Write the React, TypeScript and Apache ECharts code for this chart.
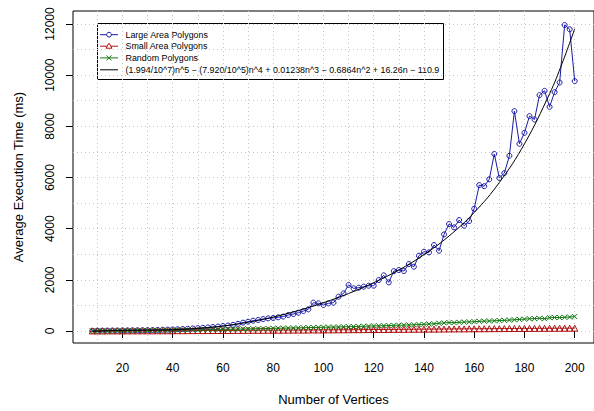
import React, { useEffect, useRef } from 'react';
import * as echarts from 'echarts';

const vertices = [
  8, 10, 12, 14, 16, 18, 20, 22, 24, 26, 28, 30, 32, 34, 36, 38, 40, 42, 44, 46,
  48, 50, 52, 54, 56, 58, 60, 62, 64, 66, 68, 70, 72, 74, 76, 78, 80, 82, 84, 86,
  88, 90, 92, 94, 96, 98, 100, 102, 104, 106, 108, 110, 112, 114, 116, 118, 120, 122, 124, 126,
  128, 130, 132, 134, 136, 138, 140, 142, 144, 146, 148, 150, 152, 154, 156, 158, 160, 162, 164, 166,
  168, 170, 172, 174, 176, 178, 180, 182, 184, 186, 188, 190, 192, 194, 196, 198, 200,
];

const largeArea = [
  10, 12, 14, 15, 17, 19, 21, 23, 26, 28, 31, 34, 38, 42, 47, 53, 60, 68, 78, 88,
  99, 112, 125, 140, 156, 174, 194, 216, 240, 280, 326, 362, 403, 430, 468, 495, 510, 535, 565, 625,
  664, 716, 781, 846, 1107, 1081, 1016, 1081, 1107, 1341, 1471, 1800, 1667, 1693, 1732, 1771, 1771, 1992, 2174, 1901,
  2340, 2383, 2344, 2617, 2513, 2943, 3099, 3073, 3359, 3138, 3776, 4180, 4049, 4336, 4115, 4297, 4779, 5703, 5660, 5930,
  6920, 5980, 6172, 6849, 8594, 7318, 7747, 8398, 8268, 9219, 9388, 8763, 9336, 9714, 11960, 11793, 9766,
];

const smallArea = [
  3, 3, 4, 4, 5, 5, 6, 6, 7, 7, 8, 9, 9, 10, 10, 11, 12, 13, 13, 14,
  15, 16, 17, 18, 19, 20, 21, 22, 23, 24, 25, 26, 27, 28, 29, 30, 31, 32, 34, 35,
  36, 37, 38, 40, 41, 42, 44, 45, 46, 48, 49, 50, 52, 53, 55, 56, 58, 59, 60, 62,
  63, 65, 66, 68, 69, 71, 72, 74, 75, 77, 78, 80, 81, 83, 84, 86, 87, 88, 90, 91,
  93, 94, 95, 97, 98, 99, 101, 102, 103, 104, 105, 106, 107, 108, 109, 110, 111,
];

const randomPolygons = [
  3, 4, 5, 6, 8, 9, 11, 12, 14, 16, 18, 20, 22, 24, 27, 29, 32, 35, 38, 41,
  44, 47, 50, 53, 57, 60, 64, 67, 71, 75, 79, 83, 87, 91, 95, 99, 103, 107, 111, 115,
  120, 124, 128, 133, 137, 141, 146, 150, 155, 160, 165, 170, 175, 180, 186, 192, 198, 204, 210, 215,
  220, 226, 232, 238, 245, 252, 262, 272, 283, 300, 318, 330, 326, 338, 350, 356, 366, 378, 384, 392,
  400, 410, 416, 428, 440, 452, 465, 478, 486, 498, 482, 520, 528, 526, 536, 545, 565,
];

const fitVertices = [8, 10, 20, 30, 40, 50, 60, 70, 80, 90, 100, 110, 120, 130, 140, 150, 160, 170, 180, 190, 195, 200];
const fitValues = [
  -18.7, -5.3, 26.8, 34.1, 51.3, 100.9, 196.4, 343.8, 544.9, 798.8, 1105.1,
  1465.7, 1887.6, 2384.9, 2981.5, 3713.5, 4631.4, 5802.6, 7313.7, 9273.1, 10461.4, 11813,
];

const xTicks = [20, 40, 60, 80, 100, 120, 140, 160, 180, 200];
const yTicks = [0, 2000, 4000, 6000, 8000, 10000, 12000];
const xGridValues = [10, 20, 30, 40, 50, 60, 70, 80, 90, 100, 110, 120, 130, 140, 150, 160, 170, 180, 190, 200];
const yGridValues = [0, 1000, 2000, 3000, 4000, 5000, 6000, 7000, 8000, 9000, 10000, 11000, 12000];

const seriesNames = [
  'Large Area Polygons',
  'Small Area Polygons',
  'Random Polygons',
  '(1.994/10^7)n^5 \u2212 (7.920/10^5)n^4 + 0.01238n^3 \u2212 0.6864n^2 + 16.26n \u2212 110.9',
];

const FONT = "'Liberation Sans', Arial, Helvetica, sans-serif";
const BLUE = '#1a1aa8';
const RED = '#b01010';
const GREEN = '#127a12';

function pairs(xs: number[], ys: number[]) {
  return xs.map((x, i) => [x, ys[i]]);
}

export default function App() {
  const ref = useRef<HTMLDivElement>(null);

  useEffect(() => {
    document.body.style.margin = '0';
    if (!ref.current) return;
    const chart = echarts.init(ref.current, null, { renderer: 'svg' });

    const legendX = 97.5;
    const legendY = 23.5;
    const rowY = [34.7, 46.2, 57.9, 69.8];
    const lx1 = 100;
    const lx2 = 118;
    const mx = 109;
    const tx = 125.5;
    const colors = [BLUE, RED, GREEN, '#000'];

    const legendChildren: any[] = [
      {
        type: 'rect',
        shape: { x: legendX, y: legendY, width: 346, height: 56 },
        style: { fill: '#fff', stroke: '#000', lineWidth: 1 },
      },
    ];
    seriesNames.forEach((name, i) => {
      const y = rowY[i];
      legendChildren.push({
        type: 'line',
        shape: { x1: lx1, y1: y, x2: lx2, y2: y },
        style: { stroke: colors[i], lineWidth: 1 },
      });
      if (i === 0) {
        legendChildren.push({
          type: 'circle',
          shape: { cx: mx, cy: y, r: 2.4 },
          style: { fill: '#fff', stroke: colors[i], lineWidth: 1 },
        });
      } else if (i === 1) {
        legendChildren.push({
          type: 'polygon',
          shape: { points: [[mx, y - 3], [mx + 3, y + 2], [mx - 3, y + 2]] },
          style: { fill: '#fff', stroke: colors[i], lineWidth: 1 },
        });
      } else if (i === 2) {
        legendChildren.push({
          type: 'line',
          shape: { x1: mx - 2.5, y1: y - 2.5, x2: mx + 2.5, y2: y + 2.5 },
          style: { stroke: colors[i], lineWidth: 1 },
        });
        legendChildren.push({
          type: 'line',
          shape: { x1: mx - 2.5, y1: y + 2.5, x2: mx + 2.5, y2: y - 2.5 },
          style: { stroke: colors[i], lineWidth: 1 },
        });
      }
      legendChildren.push({
        type: 'text',
        x: tx,
        y: y,
        style: {
          text: name,
          fontSize: 8.9,
          fontFamily: FONT,
          fill: '#000',
          verticalAlign: 'middle',
          align: 'left',
        },
      });
    });

    const option: any = {
      animation: false,
      backgroundColor: '#fff',
      textStyle: { fontFamily: FONT },
      grid: {
        left: 73,
        top: 11,
        width: 522,
        height: 332,
        show: true,
        borderColor: '#000',
        borderWidth: 1,
        backgroundColor: 'transparent',
      },
      xAxis: [
        {
          type: 'value',
          min: 0.32,
          max: 207.68,
          position: 'bottom',
          axisLine: { show: false },
          axisTick: {
            show: true,
            length: 7,
            customValues: xTicks,
            lineStyle: { color: '#000', width: 1 },
          },
          axisLabel: {
            customValues: xTicks,
            fontSize: 12,
            color: '#000',
            margin: 19,
            fontFamily: FONT,
            formatter: (v: number) => String(v),
          },
          splitLine: { show: false },
          name: 'Number of Vertices',
          nameLocation: 'middle',
          nameGap: 50,
          nameTextStyle: { fontSize: 13, color: '#000', fontFamily: FONT },
        },
        {
          type: 'value',
          min: 0.32,
          max: 207.68,
          position: 'top',
          axisLine: { show: false },
          axisTick: { show: false, customValues: xGridValues },
          axisLabel: { show: false, customValues: xGridValues },
          splitLine: { show: true, lineStyle: { color: '#c4c4c4', type: [1, 3], width: 1 } },
        },
      ],
      yAxis: [
        {
          type: 'value',
          min: -469,
          max: 12508,
          position: 'left',
          axisLine: { show: false },
          axisTick: {
            show: true,
            length: 7,
            customValues: yTicks,
            lineStyle: { color: '#000', width: 1 },
          },
          axisLabel: {
            customValues: yTicks,
            fontSize: 12,
            color: '#000',
            rotate: 90,
            margin: 17,
            fontFamily: FONT,
            formatter: (v: number) => String(v),
          },
          splitLine: { show: false },
          name: 'Average Execution Time (ms)',
          nameLocation: 'middle',
          nameGap: 48,
          nameRotate: 90,
          nameTextStyle: { fontSize: 13, color: '#000', fontFamily: FONT },
        },
        {
          type: 'value',
          min: -469,
          max: 12508,
          position: 'right',
          axisLine: { show: false },
          axisTick: { show: false, customValues: yGridValues },
          axisLabel: { show: false, customValues: yGridValues },
          splitLine: { show: true, lineStyle: { color: '#c4c4c4', type: [1, 3], width: 1 } },
        },
      ],
      series: [
        {
          name: seriesNames[0],
          type: 'line',
          data: pairs(vertices, largeArea),
          symbol: 'circle',
          symbolSize: 5,
          showAllSymbol: true,
          lineStyle: { color: BLUE, width: 1 },
          itemStyle: { color: 'transparent', borderColor: BLUE, borderWidth: 1 },
          z: 3,
        },
        {
          name: seriesNames[1],
          type: 'line',
          data: pairs(vertices, smallArea),
          symbol: 'triangle',
          symbolSize: 6,
          showAllSymbol: true,
          lineStyle: { color: RED, width: 1 },
          itemStyle: { color: 'transparent', borderColor: RED, borderWidth: 1 },
          z: 3,
        },
        {
          name: seriesNames[2],
          type: 'line',
          data: pairs(vertices, randomPolygons),
          symbol: 'path://M0,0L10,10M10,0L0,10',
          symbolSize: 5,
          showAllSymbol: true,
          lineStyle: { color: GREEN, width: 1 },
          itemStyle: { color: 'transparent', borderColor: GREEN, borderWidth: 1 },
          z: 3,
        },
        {
          name: seriesNames[3],
          type: 'line',
          data: pairs(fitVertices, fitValues),
          symbol: 'none',
          smooth: 0.4,
          lineStyle: { color: '#000', width: 1 },
          z: 4,
        },
      ],
      graphic: [
        {
          type: 'group',
          z: 100,
          children: legendChildren,
        },
      ],
    };

    chart.setOption(option);
    return () => {
      chart.dispose();
    };
  }, []);

  return <div ref={ref} style={{ width: 594, height: 411 }} />;
}
